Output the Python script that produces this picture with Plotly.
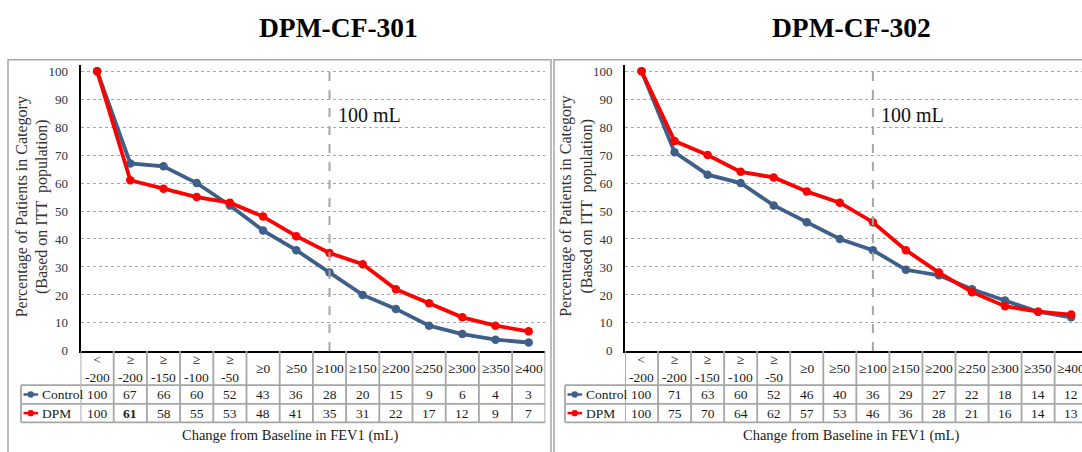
import plotly.graph_objects as go

# ---------------- data ----------------
categories = ["< -200", "≥ -200", "≥ -150", "≥ -100", "≥ -50", "≥0", "≥50",
              "≥100", "≥150", "≥200", "≥250", "≥300", "≥350", "≥400"]
header_labels = ["&lt;<br>-200", "≥<br>-200", "≥<br>-150", "≥<br>-100", "≥<br>-50",
                 "≥0", "≥50", "≥100", "≥150", "≥200", "≥250", "≥300", "≥350", "≥400"]
control_301 = [100, 67, 66, 60, 52, 43, 36, 28, 20, 15, 9, 6, 4, 3]
dpm_301 = [100, 61, 58, 55, 53, 48, 41, 35, 31, 22, 17, 12, 9, 7]
control_302 = [100, 71, 63, 60, 52, 46, 40, 36, 29, 27, 22, 18, 14, 12]
dpm_302 = [100, 75, 70, 64, 62, 57, 53, 46, 36, 28, 21, 16, 14, 13]
series_names = ["Control", "DPM"]
study_titles = ["DPM-CF-301", "DPM-CF-302"]
threshold_category = "≥100"
threshold_label = "100 mL"
x_title = "Change from Baseline in FEV1 (mL)"
y_title = "Percentage of Patients in Category<br>(Based on ITT  population)"
y_ticks = [0, 10, 20, 30, 40, 50, 60, 70, 80, 90, 100]

# ---------------- styling / layout ----------------
W, H = 1082, 452
FONT = "Liberation Serif, Times New Roman, serif"
C_CTRL = "#3E5F8A"
C_DPM = "#FF0000"
GRID = "#A6A6A6"
BORDER = "#A6A6A6"
TXT = "#1a1a1a"


def px(x):
    return x / W


def py(y):
    return 1 - y / H


panels = [
    dict(title=study_titles[0], control=control_301, dpm=dpm_301, bold={(1, 1)},
         axis_px=80.5, cw=33.2, legend_px=21, box=(8, 551), title_cx=338,
         xtitle_cx=290, ytitle_cx=32.5),
    dict(title=study_titles[1], control=control_302, dpm=dpm_302, bold=set(),
         axis_px=625, cw=33.05, legend_px=565, box=(554, 1100), title_cx=851,
         xtitle_cx=851, ytitle_cx=577),
]

Y_TOP_PX, Y0_PX = 65, 357
Y_MAX = 102.3
ROW_Y = [357, 392, 411, 430]  # table row boundaries

fig = go.Figure()
layout = dict(width=W, height=H, margin=dict(l=0, r=0, t=0, b=0), autosize=False,
              paper_bgcolor="white", plot_bgcolor="white", showlegend=False,
              font=dict(family=FONT, color=TXT))
shapes, annotations = [], []
n = len(categories)
idx = list(range(n))

for k, p in enumerate(panels):
    sfx = "" if k == 0 else str(k + 1)
    xa, ya = "x" + sfx, "y" + sfx
    cw = p["cw"]
    x_left = p["axis_px"]
    x_right = min(W, x_left + n * cw)
    xmax = -0.5 + (x_right - x_left) / cw

    layout["xaxis" + sfx] = dict(domain=[px(x_left), px(x_right)], range=[-0.5, xmax],
                                 showticklabels=False, showgrid=False, zeroline=False,
                                 showline=True, linecolor="black", linewidth=2,
                                 anchor=ya, fixedrange=True)
    layout["yaxis" + sfx] = dict(domain=[py(Y0_PX), py(Y_TOP_PX)], range=[0, Y_MAX],
                                 tickvals=y_ticks, showgrid=True, gridcolor=GRID,
                                 griddash="dot", gridwidth=1, zeroline=False,
                                 showline=True, linecolor="black", linewidth=2,
                                 ticks="", ticklabelstandoff=8, anchor=xa,
                                 tickfont=dict(family=FONT, size=13, color="#333333"),
                                 fixedrange=True)

    for vals, color, name in [(p["control"], C_CTRL, series_names[0]),
                              (p["dpm"], C_DPM, series_names[1])]:
        fig.add_trace(go.Scatter(x=idx, y=vals, mode="lines+markers", name=name,
                                 line=dict(color=color, width=3.8),
                                 marker=dict(color=color, size=8.5),
                                 customdata=categories, xaxis=xa, yaxis=ya,
                                 hovertemplate="%{customdata}: %{y}<extra>" + name + "</extra>"))

    bx0, bx1 = p["box"]
    shapes.append(dict(type="rect", xref="paper", yref="paper", x0=px(bx0), x1=px(bx1),
                       y0=py(470), y1=py(60), line=dict(color=BORDER, width=1.5),
                       layer="below"))

    ti = categories.index(threshold_category)
    shapes.append(dict(type="line", xref=xa, yref=ya, x0=ti, x1=ti, y0=0, y1=Y_MAX,
                       line=dict(color="#A6A6A6", width=2, dash="dash")))
    annotations.append(dict(xref=xa, yref="paper", x=ti, y=py(116), xanchor="left",
                            xshift=6, yanchor="middle", text=threshold_label,
                            showarrow=False, font=dict(family=FONT, size=20, color="#111111")))

    annotations.append(dict(xref="paper", yref="paper", x=px(p["title_cx"]), y=py(27),
                            xanchor="center", yanchor="middle", text="<b>" + p["title"] + "</b>",
                            showarrow=False, font=dict(family=FONT, size=27.5, color="black")))
    annotations.append(dict(xref="paper", yref="paper", x=px(p["xtitle_cx"]), y=py(443),
                            xanchor="center", yanchor="middle", text=x_title,
                            showarrow=False, font=dict(family=FONT, size=14.5, color=TXT)))
    annotations.append(dict(xref="paper", yref="paper", x=px(p["ytitle_cx"]), y=py(210),
                            xanchor="center", yanchor="middle", text=y_title, textangle=-90,
                            showarrow=False, font=dict(family=FONT, size=16, color="#333333")))

    # ----- data table -----
    tl = dict(color=BORDER, width=1.8)
    for i in range(n + 1):
        shapes.append(dict(type="line", xref=xa, yref="paper", x0=i - 0.5, x1=i - 0.5,
                           y0=py(ROW_Y[0]), y1=py(ROW_Y[3]), line=tl))
    shapes.append(dict(type="line", xref="paper", yref="paper", x0=px(p["legend_px"]),
                       x1=px(p["legend_px"]), y0=py(ROW_Y[1]), y1=py(ROW_Y[3]), line=tl))
    for r in ROW_Y[1:]:
        shapes.append(dict(type="line", xref="paper", yref="paper", x0=px(p["legend_px"]),
                           x1=px(x_left), y0=py(r), y1=py(r), line=tl))
        shapes.append(dict(type="line", xref=xa, yref="paper", x0=-0.5, x1=n - 0.5,
                           y0=py(r), y1=py(r), line=tl))
    for i, lab in enumerate(header_labels):
        annotations.append(dict(xref=xa, yref="paper", x=i, y=py((ROW_Y[0] + ROW_Y[1]) / 2),
                                xanchor="center", yanchor="middle", text=lab, showarrow=False,
                                font=dict(family=FONT, size=13.5, color=TXT)))
    for r, (vals, color, name) in enumerate([(p["control"], C_CTRL, series_names[0]),
                                             (p["dpm"], C_DPM, series_names[1])]):
        yc = (ROW_Y[r + 1] + ROW_Y[r + 2]) / 2
        for i, v in enumerate(vals):
            txt = "<b>%d</b>" % v if (r, i) in p["bold"] else str(v)
            annotations.append(dict(xref=xa, yref="paper", x=i, y=py(yc), xanchor="center",
                                    yanchor="middle", text=txt, showarrow=False,
                                    font=dict(family=FONT, size=13.5, color=TXT)))
        lx = p["legend_px"]
        shapes.append(dict(type="line", xref="paper", yref="paper", x0=px(lx + 2.5),
                           x1=px(lx + 17), y0=py(yc), y1=py(yc),
                           line=dict(color=color, width=2.5)))
        shapes.append(dict(type="circle", xref="paper", yref="paper", x0=px(lx + 6.5),
                           x1=px(lx + 13), y0=py(yc + 3.2), y1=py(yc - 3.2),
                           fillcolor=color, line=dict(color=color, width=0)))
        annotations.append(dict(xref="paper", yref="paper", x=px(lx + 19), y=py(yc),
                                xanchor="left", yanchor="middle", text=name, showarrow=False,
                                font=dict(family=FONT, size=13.5, color=TXT)))

layout["shapes"] = shapes
layout["annotations"] = annotations
fig.update_layout(**layout)
fig.write_html("out.html",
               config={"displayModeBar": False},
               post_script="document.body.style.margin='0px';"
                           "document.documentElement.style.overflow='hidden';")
